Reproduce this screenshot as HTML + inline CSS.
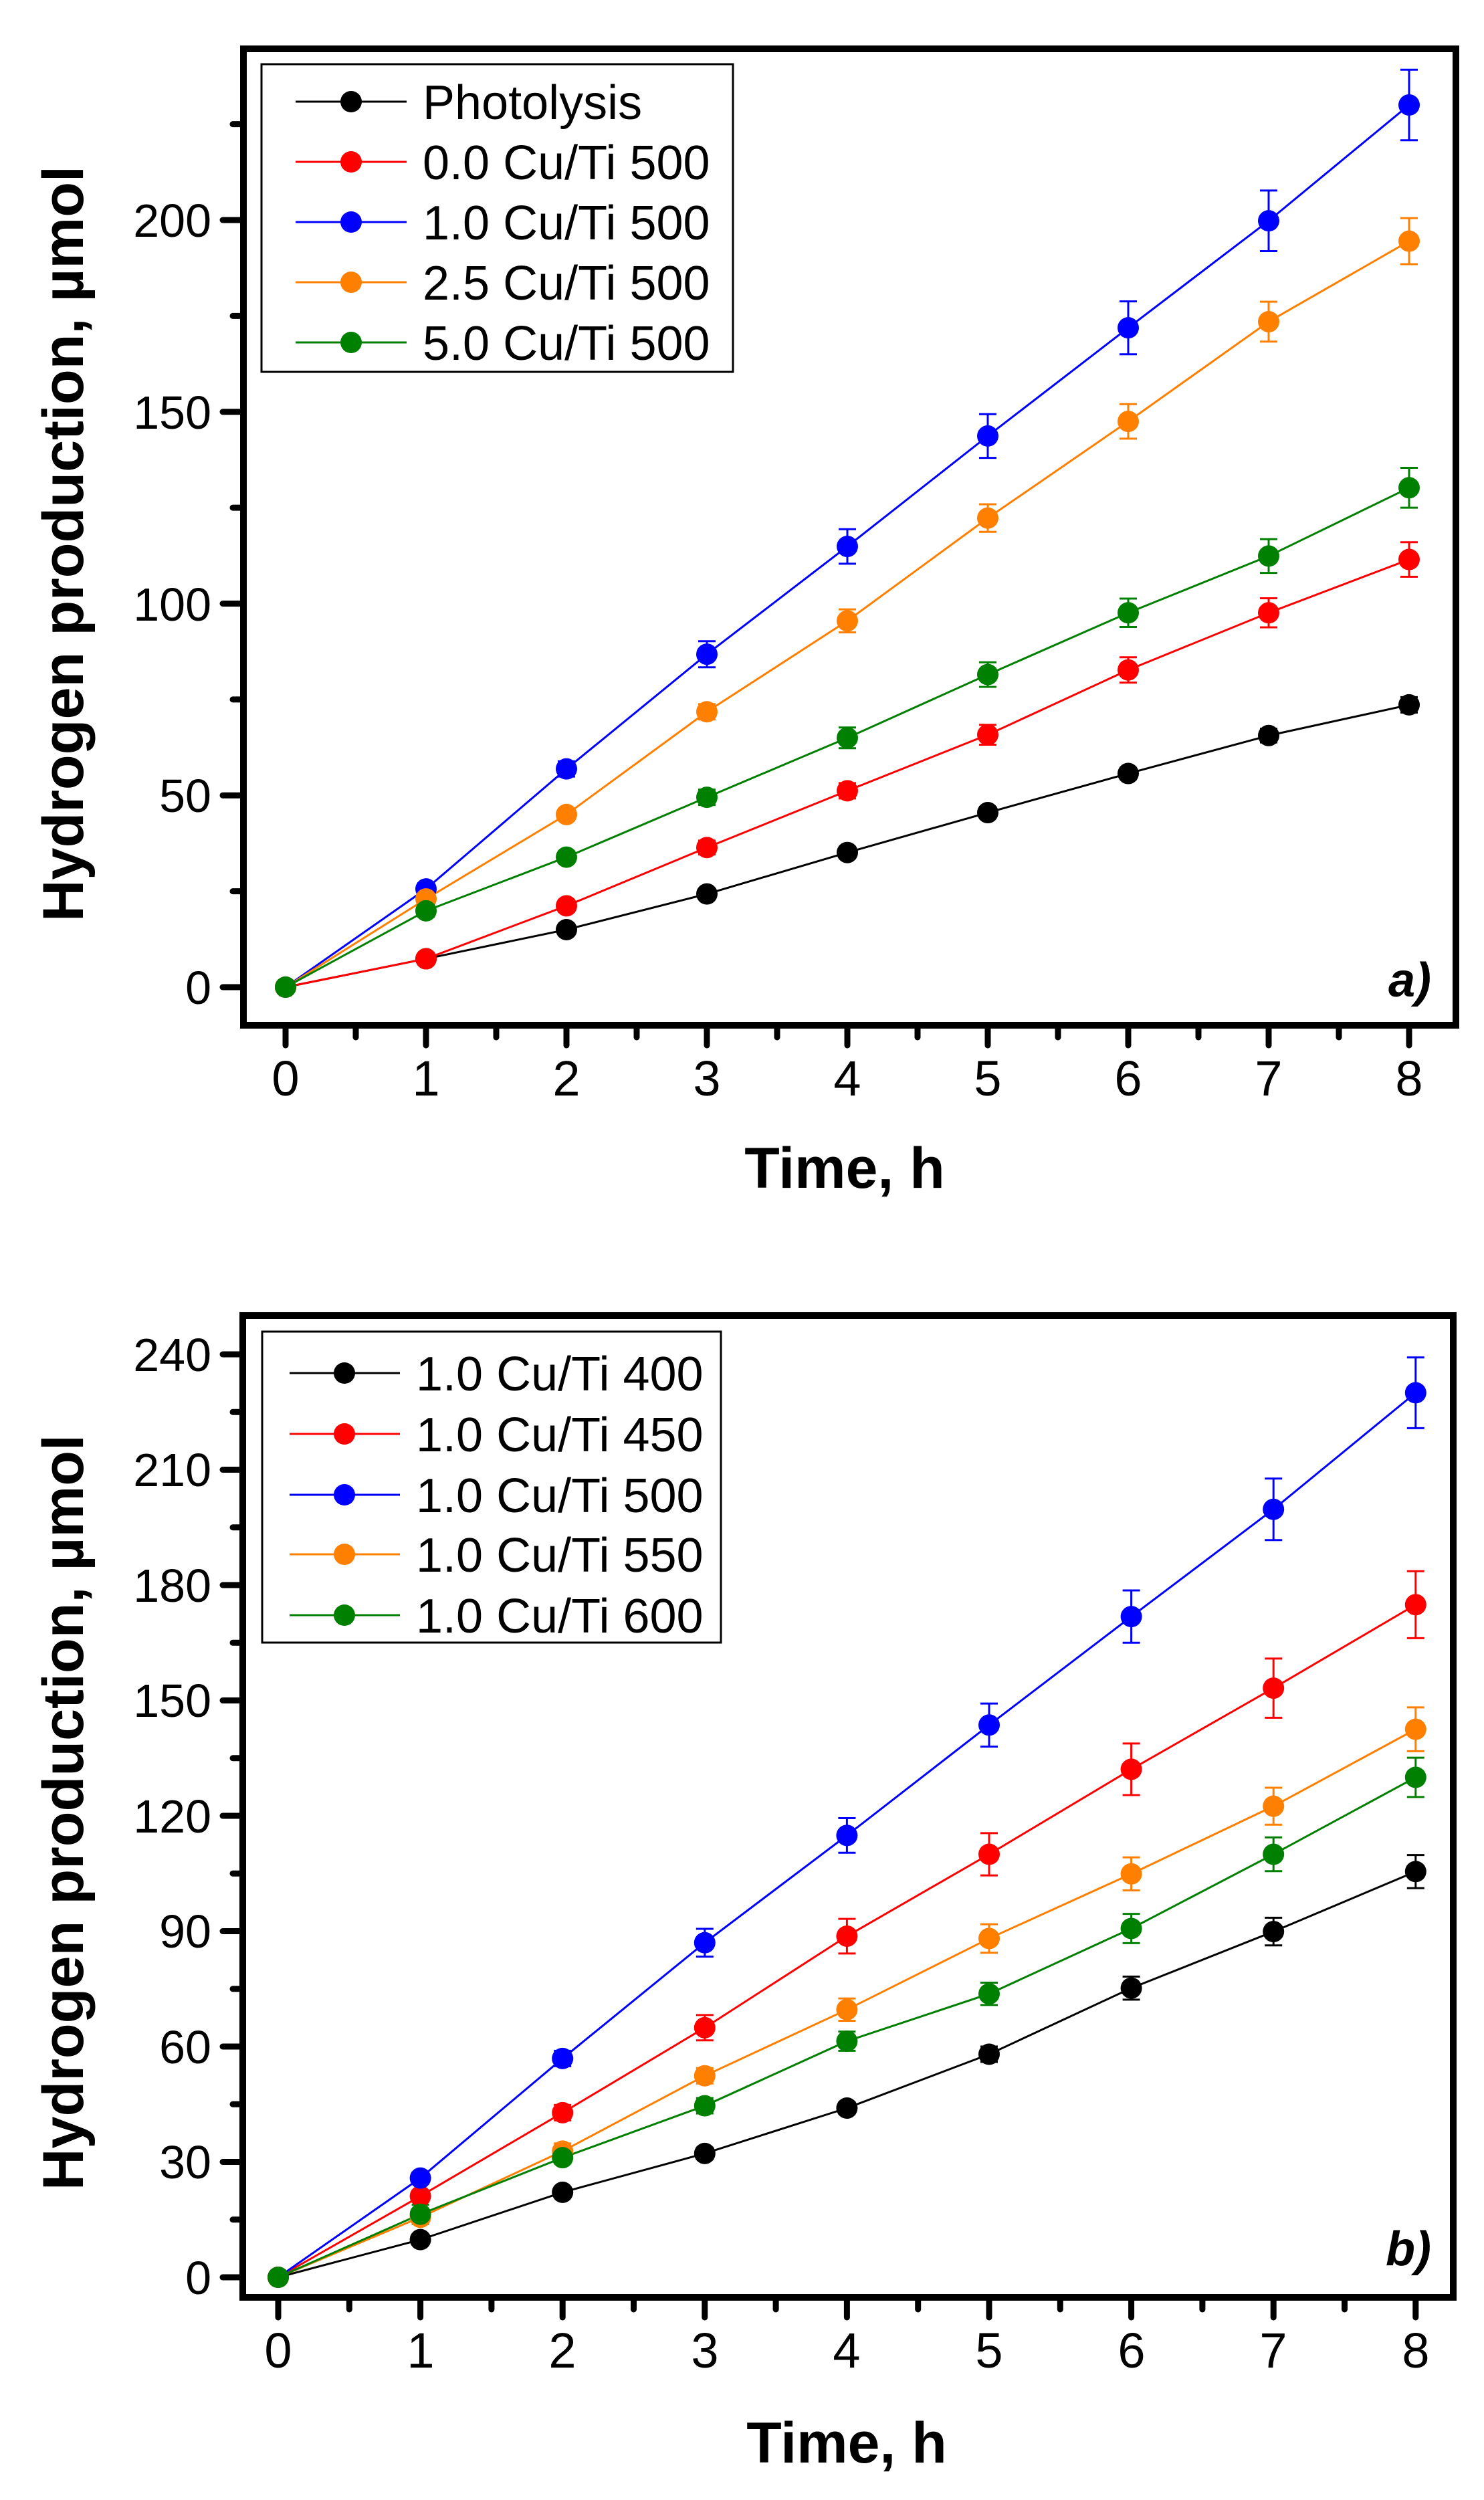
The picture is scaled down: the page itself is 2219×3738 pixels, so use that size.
<!DOCTYPE html>
<html><head><meta charset="utf-8"><style>
html,body{margin:0;padding:0;background:#fff;}
svg{display:block;}
text{font-family:"Liberation Sans",Arial,sans-serif;fill:#000;}
</style></head><body>
<svg id="s" width="2219" height="3738" viewBox="0 0 2219 3738" xmlns="http://www.w3.org/2000/svg">
<rect width="2219" height="3738" fill="#fff"/>
<g id="da"></g>
<g id="db"></g>
<!-- frames -->
<rect x="364" y="73" width="1813" height="1460" fill="none" stroke="#000" stroke-width="10"/>
<rect x="363" y="1967" width="1810" height="1468" fill="none" stroke="#000" stroke-width="10"/>
<!-- legend a -->
<rect x="391" y="96" width="705" height="460" fill="#fff" stroke="#000" stroke-width="3"/>
<g font-size="72">
<text x="632" y="178">Photolysis</text>
<text x="632" y="268">0.0 Cu/Ti 500</text>
<text x="632" y="358">1.0 Cu/Ti 500</text>
<text x="632" y="448">2.5 Cu/Ti 500</text>
<text x="632" y="538">5.0 Cu/Ti 500</text>
</g>
<!-- legend b -->
<rect x="392" y="1991" width="686" height="465" fill="#fff" stroke="#000" stroke-width="3"/>
<g font-size="72">
<text x="622" y="2079">1.0 Cu/Ti 400</text>
<text x="622" y="2170">1.0 Cu/Ti 450</text>
<text x="622" y="2261">1.0 Cu/Ti 500</text>
<text x="622" y="2350">1.0 Cu/Ti 550</text>
<text x="622" y="2441">1.0 Cu/Ti 600</text>
</g>
<g id="leg"></g>
<g id="ticks"></g>
<!-- y tick labels a -->
<g font-size="70" text-anchor="end">
<text x="316" y="1501">0</text>
<text x="316" y="1214">50</text>
<text x="316" y="928">100</text>
<text x="316" y="641">150</text>
<text x="316" y="354">200</text>
</g>
<!-- y tick labels b -->
<g font-size="70" text-anchor="end">
<text x="316" y="3430">0</text>
<text x="316" y="3257">30</text>
<text x="316" y="3085">60</text>
<text x="316" y="2912">90</text>
<text x="316" y="2740">120</text>
<text x="316" y="2567">150</text>
<text x="316" y="2395">180</text>
<text x="316" y="2222">210</text>
<text x="316" y="2050">240</text>
</g>
<!-- x tick labels -->
<g font-size="74" text-anchor="middle">
<text x="427" y="1638">0</text><text x="637" y="1638">1</text><text x="847" y="1638">2</text><text x="1057" y="1638">3</text><text x="1267" y="1638">4</text><text x="1477" y="1638">5</text><text x="1687" y="1638">6</text><text x="1897" y="1638">7</text><text x="2107" y="1638">8</text>
</g>
<g font-size="74" text-anchor="middle">
<text x="416" y="3540">0</text><text x="629" y="3540">1</text><text x="841" y="3540">2</text><text x="1054" y="3540">3</text><text x="1266" y="3540">4</text><text x="1479" y="3540">5</text><text x="1692" y="3540">6</text><text x="1904" y="3540">7</text><text x="2117" y="3540">8</text>
</g>
<!-- titles -->
<text x="1263" y="1776" font-size="86" font-weight="bold" text-anchor="middle">Time, h</text>
<text x="1266" y="3682" font-size="86" font-weight="bold" text-anchor="middle">Time, h</text>
<text transform="translate(124,813) rotate(-90)" font-size="86" font-weight="bold" text-anchor="middle" textLength="1130" lengthAdjust="spacingAndGlyphs">Hydrogen production, µmol</text>
<text transform="translate(124,2710) rotate(-90)" font-size="86" font-weight="bold" text-anchor="middle" textLength="1130" lengthAdjust="spacingAndGlyphs">Hydrogen production, µmol</text>
<text x="2140" y="1490" font-size="72" font-weight="bold" font-style="italic" text-anchor="end">a)</text>
<text x="2140" y="3387" font-size="72" font-weight="bold" font-style="italic" text-anchor="end">b)</text>
</svg>
<script>
var NS="http://www.w3.org/2000/svg";
function el(p,n,a){var e=document.createElementNS(NS,n);for(var k in a)e.setAttribute(k,a[k]);p.appendChild(e);return e;}
var C=["#000000","#ff0000","#0000ff","#ff8000","#008000"];
function plot(g,X,Y,data,err){
  data.forEach(function(s,i){
    var pts=s.map(function(v,t){return X(t)+","+Y(v);}).join(" ");
    el(g,"polyline",{points:pts,fill:"none",stroke:C[i],"stroke-width":3});
  });
  data.forEach(function(s,i){
    s.forEach(function(v,t){
      var e=err[i][t]||0; if(e>0.5){
        var x=X(t),y1=Y(v+e),y2=Y(v-e);
        el(g,"line",{x1:x,x2:x,y1:y1,y2:y2,stroke:C[i],"stroke-width":3});
        el(g,"line",{x1:x-13,x2:x+13,y1:y1,y2:y1,stroke:C[i],"stroke-width":3});
        el(g,"line",{x1:x-13,x2:x+13,y1:y2,y2:y2,stroke:C[i],"stroke-width":3});
      }
    });
  });
  data.forEach(function(s,i){
    s.forEach(function(v,t){el(g,"circle",{cx:X(t),cy:Y(v),r:16,fill:C[i]});});
  });
}
var Xa=function(t){return 427+210*t;},Ya=function(v){return 1476-5.735*v;};
var Xb=function(t){return 416+212.6*t;},Yb=function(v){return 3405-5.75*v;};
plot(document.getElementById("da"),Xa,Ya,[
[0,7.4,15,24.3,35.1,45.5,55.7,65.6,73.6],
[0,7.4,21.2,36.4,51.2,65.8,82.7,97.6,111.5],
[0,25.6,56.9,86.8,114.9,143.7,171.9,199.8,230],
[0,23,45,71.8,95.5,122.3,147.5,173.5,194.5],
[0,19.9,33.9,49.5,65,81.5,97.6,112.4,130.2]],[
[0,0,1,1,1.5,1.5,1.5,1.8,2],
[0,1,1.5,1.8,2,2.6,3.3,3.8,4.5],
[0,1.5,2,3.4,4.5,5.7,6.9,7.9,9.2],
[0,2,1.5,2,3,3.6,4.5,5.2,6],
[0,1.5,1.5,2,2.7,3.2,3.7,4.4,5.2]]);
plot(document.getElementById("db"),Xb,Yb,[
[0,9.8,22.1,32.2,44,58,75.2,89.9,105.5],
[0,21.1,42.8,64.9,88.7,110,132.1,153.2,174.9],
[0,25.8,56.9,87,114.9,143.6,171.8,199.7,230],
[0,15.6,32.8,52.4,69.6,88.1,104.9,122.5,142.5],
[0,16.4,31.1,44.6,61.4,73.7,90.7,110,130]],[
[0,1,1.2,1.5,1.5,2,3,3.6,4.3],
[0,1.5,2,3.3,4.5,5.5,6.7,7.7,8.7],
[0,1.5,2,3.6,4.5,5.6,6.8,8,9.2],
[0,1.5,2,2,2.9,3.7,4.3,4.8,5.7],
[0,2.5,1.5,2,2.5,2.9,3.8,4.4,5.1]]);
// legends
var lg=document.getElementById("leg");
[152,242,332,422,512].forEach(function(y,i){
  el(lg,"line",{x1:442,x2:608,y1:y,y2:y,stroke:C[i],"stroke-width":3});
  el(lg,"circle",{cx:525,cy:y,r:16,fill:C[i]});
});
[2053,2144,2235,2324,2415].forEach(function(y,i){
  el(lg,"line",{x1:433,x2:598,y1:y,y2:y,stroke:C[i],"stroke-width":3});
  el(lg,"circle",{cx:515,cy:y,r:16,fill:C[i]});
});
// ticks
var tg=document.getElementById("ticks");
function tk(x1,y1,x2,y2){el(tg,"line",{x1:x1,y1:y1,x2:x2,y2:y2,stroke:"#000","stroke-width":9,"stroke-linecap":"round"});}
for(var v=0;v<=225;v+=25){var y=Ya(v);tk(359,y,v%50==0?333:348,y);}
for(var t=0;t<=8;t+=0.5){var x=Xa(t);tk(x,1538,x,t%1==0?1563:1551);}
for(var v=0;v<=240;v+=15){var y=Yb(v);tk(358,y,v%30==0?333:348,y);}
for(var t=0;t<=8;t+=0.5){var x=Xb(t);tk(x,3440,x,t%1==0?3465:3453);}
</script>
</body></html>
